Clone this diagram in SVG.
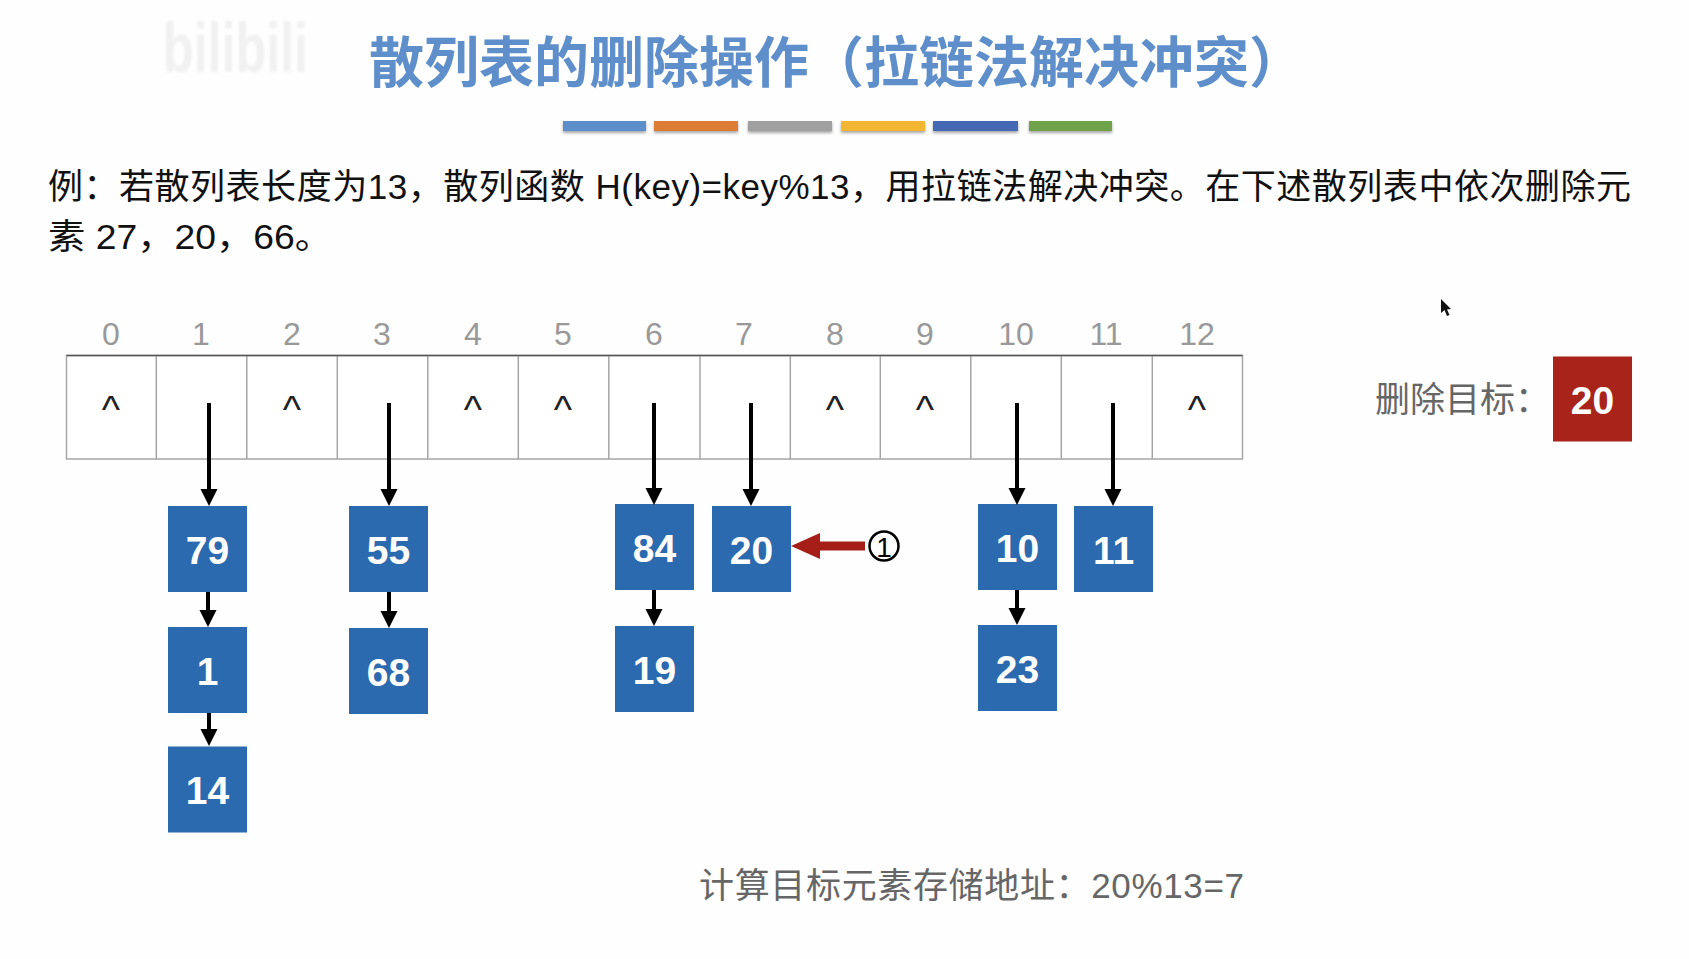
<svg xmlns="http://www.w3.org/2000/svg" width="1689" height="959" viewBox="0 0 1689 959">
<style>
text{font-family:"Liberation Sans","Noto Sans CJK SC",sans-serif}
.t{font-family:"Noto Sans CJK SC",sans-serif;font-weight:700;font-size:55px;fill:#5f8fca}
.b{font-size:35px;fill:#111}
.g{font-size:35px;fill:#666}
.i{font-size:32px;fill:#999;text-anchor:middle}
.c{font-size:39px;fill:#222;text-anchor:middle}
.n{font-size:39px;font-weight:700;fill:#fff;text-anchor:middle;dominant-baseline:central}
.box{fill:#2b6aae}
.cell{fill:#fff;stroke:#a6a6a6;stroke-width:1.5}
.a{stroke:#000;stroke-width:4;fill:none;marker-end:url(#ah)}
</style>
<defs>
<marker id="ah" markerUnits="userSpaceOnUse" markerWidth="18" markerHeight="18" refX="0" refY="9" orient="auto"><path d="M0,0.5L17,9L0,17.5z" fill="#000"/></marker>
<filter id="sh" x="-5%" y="-30%" width="110%" height="190%"><feDropShadow dx="0" dy="2" stdDeviation="1.5" flood-color="#000" flood-opacity=".35"/></filter>
<filter id="blur"><feGaussianBlur stdDeviation="1.2"/></filter>
</defs>
<rect width="1689" height="959" fill="#fefefe"/>
<text x="163" y="72" font-size="70" font-weight="700" fill="#f1f1f1" textLength="145" lengthAdjust="spacingAndGlyphs" filter="url(#blur)">bilibili</text>
<text id="title" class="t" x="369" y="82" textLength="935" lengthAdjust="spacingAndGlyphs">散列表的删除操作（拉链法解决冲突）</text>
<g id="bars" filter="url(#sh)">
<rect x="563" y="121" width="83" height="10" fill="#5b8fc9"/>
<rect x="654" y="121" width="84" height="10" fill="#dd7d35"/>
<rect x="748" y="121" width="84" height="10" fill="#a0a0a0"/>
<rect x="841" y="121" width="84" height="10" fill="#f2b632"/>
<rect x="933" y="121" width="85" height="10" fill="#4468b5"/>
<rect x="1029" y="121" width="83" height="10" fill="#6fa14c"/>
</g>
<text class="b" x="48" y="199" textLength="1583">例：若散列表长度为13，散列函数 H(key)=key%13，用拉链法解决冲突。在下述散列表中依次删除元</text>
<text class="b" x="48" y="249" textLength="284" lengthAdjust="spacingAndGlyphs">素 27，20，66。</text>
<g id="table">
<rect class="cell" x="66.5" y="355.5" width="1176" height="103.500"/>
<path d="M156.300 355.500V459M246.800 355.500V459M337.300 355.500V459M427.800 355.500V459M518.300 355.500V459M608.800 355.500V459M700 355.500V459M790.300 355.500V459M880.300 355.500V459M970.800 355.500V459M1061.300 355.500V459M1152.300 355.500V459" stroke="#a6a6a6" stroke-width="1.500" fill="none"/>
<path d="M66.500 355.500H1242.500" stroke="#555" stroke-width="1.500"/>
</g>
<g id="indices">
<text class="i" x="111" y="345">0</text><text class="i" x="201" y="345">1</text><text class="i" x="292" y="345">2</text><text class="i" x="382" y="345">3</text><text class="i" x="473" y="345">4</text><text class="i" x="563" y="345">5</text><text class="i" x="654" y="345">6</text><text class="i" x="744" y="345">7</text><text class="i" x="835" y="345">8</text><text class="i" x="925" y="345">9</text><text class="i" x="1016" y="345">10</text><text class="i" x="1106" y="345">11</text><text class="i" x="1197" y="345">12</text>
</g>
<g id="nulls">
<text class="c" x="111" y="423">^</text><text class="c" x="292" y="423">^</text><text class="c" x="473" y="423">^</text><text class="c" x="563" y="423">^</text><text class="c" x="835" y="423">^</text><text class="c" x="925" y="423">^</text><text class="c" x="1197" y="423">^</text>
</g>
<g id="n79"><rect class="box" x="168" y="506" width="79" height="86"/><text class="n" x="207.500" y="550">79</text></g>
<g id="n1"><rect class="box" x="168" y="627" width="79" height="86"/><text class="n" x="207.500" y="671">1</text></g>
<g id="n14"><rect class="box" x="168" y="746.500" width="79" height="86"/><text class="n" x="207.500" y="790">14</text></g>
<g id="n55"><rect class="box" x="349" y="506" width="79" height="86"/><text class="n" x="388.500" y="550">55</text></g>
<g id="n68"><rect class="box" x="349" y="628" width="79" height="86"/><text class="n" x="388.500" y="672">68</text></g>
<g id="n84"><rect class="box" x="615" y="504" width="79" height="86"/><text class="n" x="654.500" y="548">84</text></g>
<g id="n19"><rect class="box" x="615" y="626" width="79" height="86"/><text class="n" x="654.500" y="670">19</text></g>
<g id="n20"><rect class="box" x="712" y="506" width="79" height="86"/><text class="n" x="751.500" y="550">20</text></g>
<g id="n10"><rect class="box" x="978" y="504" width="79" height="86"/><text class="n" x="1017.500" y="548">10</text></g>
<g id="n23"><rect class="box" x="978" y="625" width="79" height="86"/><text class="n" x="1017.500" y="669">23</text></g>
<g id="n11"><rect class="box" x="1074" y="506" width="79" height="86"/><text class="n" x="1113.500" y="550">11</text></g>
<g id="connectors">
<path class="a" d="M209 403V489"/><path class="a" d="M389 403V489"/><path class="a" d="M654 403V488"/><path class="a" d="M751 403V489"/><path class="a" d="M1017 403V488"/><path class="a" d="M1113 403V489"/>
<path class="a" d="M208 592V610"/><path class="a" d="M209 713V729"/><path class="a" d="M389 592V611"/><path class="a" d="M654 590V609"/><path class="a" d="M1017 590V608"/>
<path d="M865 546H816" stroke="#a51f18" stroke-width="9" fill="none"/><path d="M791 546L820 533V559z" fill="#a51f18"/>
</g>
<g id="step"><circle cx="884" cy="546" r="14.500" fill="none" stroke="#000" stroke-width="2.500"/><text x="884" y="556.500" font-size="28" fill="#000" text-anchor="middle">1</text></g>
<g id="target"><text class="g" x="1375" y="412">删除目标：</text><rect x="1553" y="356.500" width="79" height="85" fill="#a8231a"/><text class="n" x="1592.500" y="400">20</text></g>
<text id="calc" class="g" x="699" y="898" textLength="545">计算目标元素存储地址：20%13=7</text>
<path id="cursor" d="M1441 299V313L1444.500 310L1447 316L1449.500 315L1447 309.500L1451 309z" fill="#111"/>
</svg>
